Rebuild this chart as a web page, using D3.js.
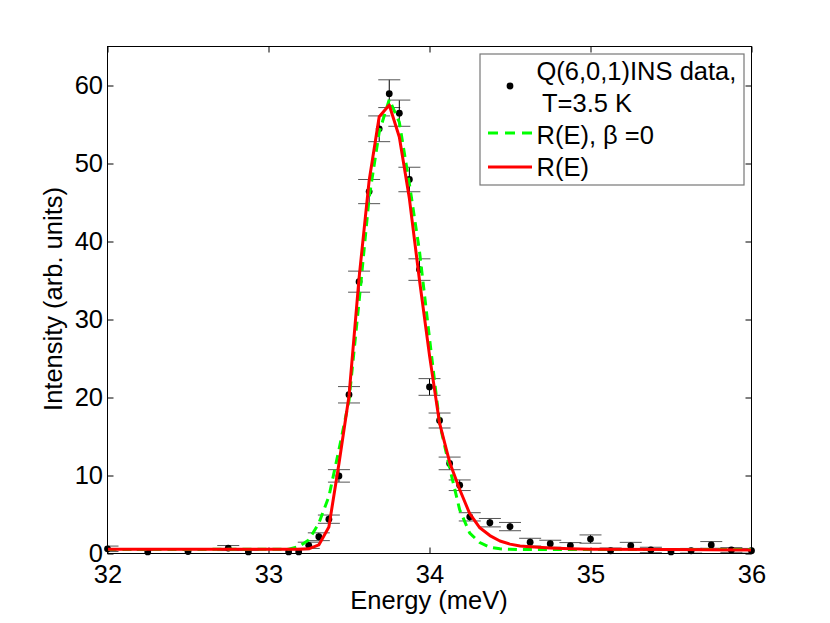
<!DOCTYPE html>
<html>
<head>
<meta charset="utf-8">
<script src="https://cdn.jsdelivr.net/npm/d3@7"></script>
<style>
  html, body { margin: 0; padding: 0; background: #fff; }
  svg { display: block; }
  text { font-family: "Liberation Sans", Arial, Helvetica, sans-serif; fill: #000; }
</style>
</head>
<body>
<svg id="chart" width="830" height="623"></svg>
<script>
// ---- data ----
const energy = [32.0, 32.25, 32.5, 32.75, 32.875, 33.125, 33.1875, 33.25, 33.3125, 33.375,
  33.4375, 33.5, 33.5625, 33.625, 33.6875, 33.75, 33.8125, 33.875, 33.9375, 34.0,
  34.0625, 34.125, 34.1875, 34.25, 34.375, 34.5, 34.625, 34.75, 34.875, 35.0,
  35.125, 35.25, 35.375, 35.5, 35.625, 35.75, 35.875, 36.0];
const intensity = [0.6, 0.2, 0.25, 0.7, 0.2, 0.2, 0.2, 1.05, 2.15, 4.4,
  9.95, 20.35, 34.85, 46.4, 54.45, 58.95, 56.45, 47.95, 36.4, 21.35,
  17.05, 11.55, 8.75, 4.7, 3.95, 3.45, 1.45, 1.25, 1.0, 1.85,
  0.35, 1.0, 0.45, 0.2, 0.35, 1.1, 0.45, 0.35];
const errors = [0.35, 0.2, 0.25, 0.32, 0.2, 0.3, 0.3, 0.4, 0.5, 0.53,
  0.8, 1.05, 1.35, 1.55, 1.65, 1.78, 1.68, 1.57, 1.38, 1.07,
  0.96, 0.81, 0.68, 0.53, 0.54, 0.53, 0.5, 0.45, 0.4, 0.53,
  0.35, 0.43, 0.35, 0.25, 0.3, 0.43, 0.3, 0.3];

const fitEnergy = [32.0, 33.125, 33.1875, 33.25, 33.3125, 33.375, 33.4375, 33.5, 33.5625, 33.625,
  33.6875, 33.75, 33.8125, 33.875, 33.9375, 34.0, 34.0625, 34.125, 34.1875, 34.25,
  34.3125, 34.375, 34.4375, 34.5, 34.5625, 34.625, 34.75, 34.875, 35.0, 35.5, 36.0];
const fitBeta0 = [0.5, 0.55, 0.87, 1.73, 3.87, 7.3, 13.3, 19.6, 32.3, 45.6,
  54.0, 58.2, 55.3, 47.4, 38.8, 27.6, 16.7, 11.0, 5.6, 2.6,
  1.4, 0.8, 0.6, 0.55, 0.5, 0.5, 0.5, 0.5, 0.5, 0.5, 0.5];
const fitFull = [0.55, 0.55, 0.55, 0.6, 1.1, 3.4, 11.5, 20.2, 35.3, 47.8,
  56.0, 57.5, 53.4, 45.5, 35.1, 25.4, 16.7, 11.7, 8.2, 5.1,
  3.3, 2.3, 1.6, 1.2, 0.95, 0.85, 0.7, 0.6, 0.55, 0.5, 0.45];

const xTicks = [32, 33, 34, 35, 36];
const yTicks = [0, 10, 20, 30, 40, 50, 60];
const xLabel = "Energy (meV)";
const yLabel = "Intensity (arb. units)";
const legendLabels = ["Q(6,0,1)INS data,", "T=3.5 K", "R(E), \u03B2 =0", "R(E)"];

// ---- layout ----
const L = 107.5, R = 751.5, T = 46.5, B = 553.5;
const FS = 25.5;
const svg = d3.select("#chart");
svg.append("rect").attr("width", 830).attr("height", 623).attr("fill", "#fff");

const x = d3.scaleLinear().domain([32, 36]).range([L, R]);
const y = d3.scaleLinear().domain([0, 65]).range([B, T]);

svg.append("clipPath").attr("id", "clip")
  .append("rect").attr("x", L).attr("y", T).attr("width", R - L).attr("height", B - T);

// axes (inward ticks on all four sides)
const gx = svg.append("g").attr("transform", `translate(0,${B})`)
  .call(d3.axisBottom(x).tickValues(xTicks).tickFormat(d3.format("d"))
    .tickSizeInner(-6).tickSizeOuter(0).tickPadding(11));
const gxt = svg.append("g").attr("transform", `translate(0,${T})`)
  .call(d3.axisTop(x).tickValues(xTicks).tickFormat("")
    .tickSizeInner(-6).tickSizeOuter(0));
const gy = svg.append("g").attr("transform", `translate(${L},0)`)
  .call(d3.axisLeft(y).tickValues(yTicks).tickFormat(d3.format("d"))
    .tickSizeInner(-6).tickSizeOuter(0).tickPadding(4.5));
const gyr = svg.append("g").attr("transform", `translate(${R},0)`)
  .call(d3.axisRight(y).tickValues(yTicks).tickFormat("")
    .tickSizeInner(-6).tickSizeOuter(0));
[gx, gxt, gy, gyr].forEach(g => {
  g.select(".domain").remove();
  g.selectAll(".tick line").attr("stroke", "#000").attr("stroke-width", 1);
  g.selectAll(".tick text").attr("font-size", FS)
    .attr("font-family", '"Liberation Sans", Arial, Helvetica, sans-serif').attr("fill", "#000");
});
gy.selectAll(".tick text").attr("dy", "0.33em");

// plot content
const plot = svg.append("g").attr("clip-path", "url(#clip)");

// error bars
const eb = plot.append("g");
energy.forEach((e, i) => {
  const cx = x(e), lo = y(intensity[i] - errors[i]), hi = y(intensity[i] + errors[i]);
  eb.append("line").attr("x1", cx).attr("x2", cx).attr("y1", lo).attr("y2", hi)
    .attr("stroke", "#000").attr("stroke-width", 1);
  [lo, hi].forEach(yy => {
    eb.append("line").attr("x1", cx - 11).attr("x2", cx + 11).attr("y1", yy).attr("y2", yy)
      .attr("stroke", "#555").attr("stroke-width", 1);
  });
});

// data points (not clipped)
svg.append("g").selectAll("circle").data(energy).join("circle")
  .attr("cx", d => x(d)).attr("cy", (d, i) => y(intensity[i])).attr("r", 3.4).attr("fill", "#000");

// fit curves
const line = d3.line().x(d => x(d[0])).y(d => y(d[1]));
const plot2 = svg.append("g").attr("clip-path", "url(#clip)");
plot2.append("path").datum(fitEnergy.map((e, i) => [e, fitBeta0[i]]))
  .attr("d", line).attr("fill", "none").attr("stroke", "#00ff00")
  .attr("stroke-width", 3).attr("stroke-dasharray", "9,6");
plot2.append("path").datum(fitEnergy.map((e, i) => [e, fitFull[i]]))
  .attr("d", line).attr("fill", "none").attr("stroke", "#ff0000")
  .attr("stroke-width", 3).attr("stroke-linejoin", "round");

// frame
svg.append("rect").attr("x", L).attr("y", T).attr("width", R - L).attr("height", B - T)
  .attr("fill", "none").attr("stroke", "#000").attr("stroke-width", 1);

// axis labels
svg.append("text").attr("x", 429).attr("y", 609).attr("text-anchor", "middle")
  .attr("font-size", FS).text(xLabel);
svg.append("text").attr("transform", "translate(62,299) rotate(-90)")
  .attr("text-anchor", "middle").attr("font-size", FS).text(yLabel);

// legend
const lg = svg.append("g");
lg.append("rect").attr("x", 480).attr("y", 54).attr("width", 264).attr("height", 131)
  .attr("fill", "#fff").attr("stroke", "#777").attr("stroke-width", 1.2);
lg.append("circle").attr("cx", 510).attr("cy", 86).attr("r", 3.4).attr("fill", "#000");
lg.append("text").attr("x", 536.5).attr("y", 80).attr("font-size", FS).text(legendLabels[0]);
lg.append("text").attr("x", 542).attr("y", 112).attr("font-size", FS).text(legendLabels[1]);
lg.append("line").attr("x1", 488).attr("x2", 532).attr("y1", 133).attr("y2", 133)
  .attr("stroke", "#00ff00").attr("stroke-width", 3).attr("stroke-dasharray", "10,7");
lg.append("text").attr("x", 536.5).attr("y", 143.5).attr("font-size", FS).text(legendLabels[2]);
lg.append("line").attr("x1", 488).attr("x2", 532).attr("y1", 167).attr("y2", 167)
  .attr("stroke", "#ff0000").attr("stroke-width", 3);
lg.append("text").attr("x", 536.5).attr("y", 175.5).attr("font-size", FS).text(legendLabels[3]);
</script>
</body>
</html>
